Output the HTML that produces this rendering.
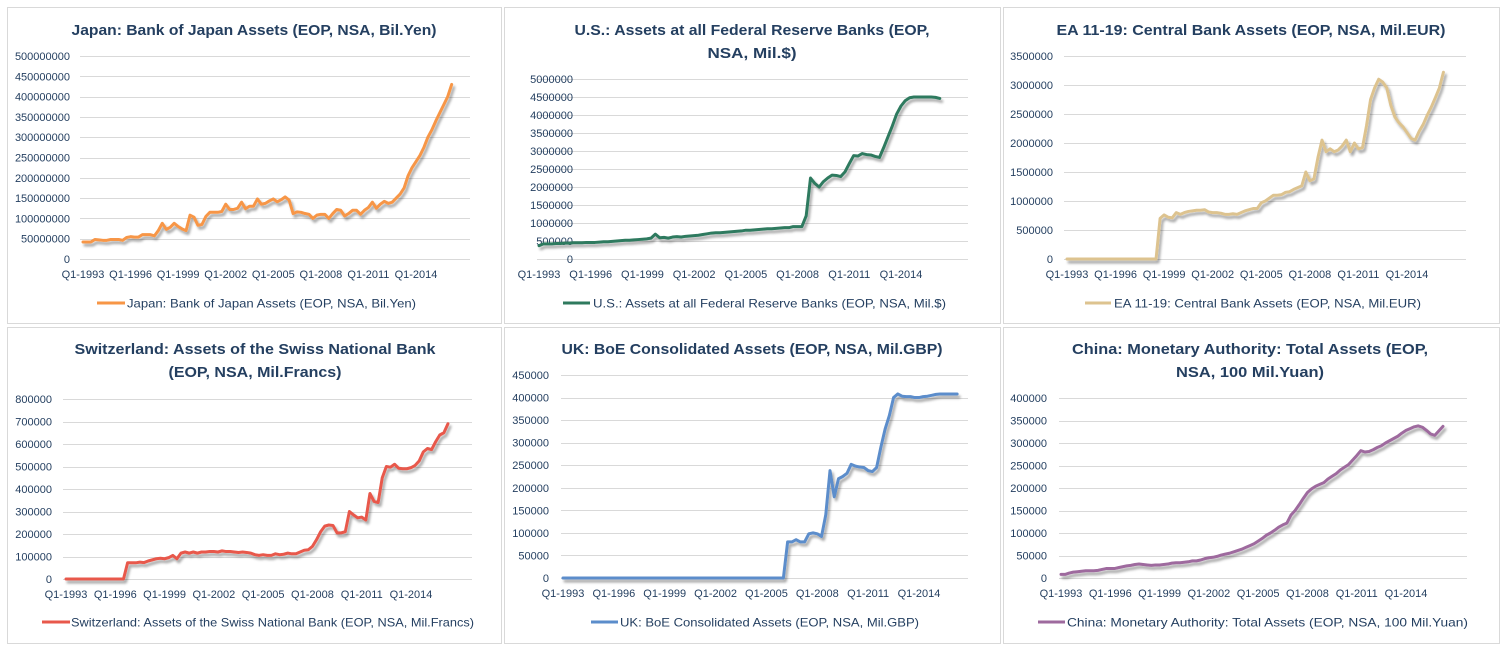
<!DOCTYPE html>
<html><head><meta charset="utf-8"><title>Central bank assets</title>
<style>
html,body{margin:0;padding:0;background:#fff;}
svg{display:block;font-family:"Liberation Sans",Arial,sans-serif;}
.ttl{font-weight:bold;font-size:15px;fill:#243F60;}
.tk{font-size:11px;fill:#243F60;}
.lg{font-size:12px;fill:#243F60;}
</style></head>
<body>
<svg id="root" width="1506" height="648" viewBox="0 0 1506 648">
<defs>
<filter id="sh" x="-10%" y="-10%" width="130%" height="130%">
<feDropShadow dx="2" dy="3" stdDeviation="1.4" flood-color="#000" flood-opacity="0.35"/>
</filter>
</defs>
<rect x="0" y="0" width="1506" height="648" fill="#fff"/>
<rect x="7.5" y="7.5" width="494" height="316" fill="#fff" stroke="#D9D9D9"/>
<rect x="504.5" y="7.5" width="496" height="316" fill="#fff" stroke="#D9D9D9"/>
<rect x="1003.5" y="7.5" width="496" height="316" fill="#fff" stroke="#D9D9D9"/>
<rect x="7.5" y="327.5" width="494" height="316" fill="#fff" stroke="#D9D9D9"/>
<rect x="504.5" y="327.5" width="496" height="316" fill="#fff" stroke="#D9D9D9"/>
<rect x="1003.5" y="327.5" width="496" height="316" fill="#fff" stroke="#D9D9D9"/>
<text class="ttl" x="254" y="35" text-anchor="middle" textLength="365" lengthAdjust="spacingAndGlyphs">Japan: Bank of Japan Assets (EOP, NSA, Bil.Yen)</text>
<text class="ttl" x="752" y="35" text-anchor="middle" textLength="355" lengthAdjust="spacingAndGlyphs">U.S.: Assets at all Federal Reserve Banks (EOP,</text>
<text class="ttl" x="752" y="58" text-anchor="middle" textLength="89" lengthAdjust="spacingAndGlyphs">NSA, Mil.$)</text>
<text class="ttl" x="1251" y="35" text-anchor="middle" textLength="389" lengthAdjust="spacingAndGlyphs">EA 11-19: Central Bank Assets (EOP, NSA, Mil.EUR)</text>
<text class="ttl" x="255" y="354" text-anchor="middle" textLength="361" lengthAdjust="spacingAndGlyphs">Switzerland: Assets of the Swiss National Bank</text>
<text class="ttl" x="255" y="377" text-anchor="middle" textLength="173" lengthAdjust="spacingAndGlyphs">(EOP, NSA, Mil.Francs)</text>
<text class="ttl" x="752" y="354" text-anchor="middle" textLength="381" lengthAdjust="spacingAndGlyphs">UK: BoE Consolidated Assets (EOP, NSA, Mil.GBP)</text>
<text class="ttl" x="1250" y="354" text-anchor="middle" textLength="356" lengthAdjust="spacingAndGlyphs">China: Monetary Authority: Total Assets (EOP,</text>
<text class="ttl" x="1250" y="377" text-anchor="middle" textLength="148" lengthAdjust="spacingAndGlyphs">NSA, 100 Mil.Yuan)</text>
<g>
<line x1="97" y1="303" x2="125" y2="303" stroke="#F79646" stroke-width="3"/>
<text class="lg" x="127" y="307.5" textLength="289" lengthAdjust="spacingAndGlyphs">Japan: Bank of Japan Assets (EOP, NSA, Bil.Yen)</text></g>
<g>
<line x1="563" y1="303" x2="590" y2="303" stroke="#2F7A5E" stroke-width="3"/>
<text class="lg" x="593" y="307.5" textLength="353" lengthAdjust="spacingAndGlyphs">U.S.: Assets at all Federal Reserve Banks (EOP, NSA, Mil.$)</text></g>
<g>
<line x1="1085" y1="303" x2="1111" y2="303" stroke="#DDC38F" stroke-width="3"/>
<text class="lg" x="1114" y="307.5" textLength="307" lengthAdjust="spacingAndGlyphs">EA 11-19: Central Bank Assets (EOP, NSA, Mil.EUR)</text></g>
<g>
<line x1="42" y1="622" x2="70" y2="622" stroke="#E8584B" stroke-width="3"/>
<text class="lg" x="71" y="626.5" textLength="403" lengthAdjust="spacingAndGlyphs">Switzerland: Assets of the Swiss National Bank (EOP, NSA, Mil.Francs)</text></g>
<g>
<line x1="591" y1="622" x2="618" y2="622" stroke="#5B8DCB" stroke-width="3"/>
<text class="lg" x="620" y="626.5" textLength="299" lengthAdjust="spacingAndGlyphs">UK: BoE Consolidated Assets (EOP, NSA, Mil.GBP)</text></g>
<g>
<line x1="1038" y1="622" x2="1065" y2="622" stroke="#9E6A9E" stroke-width="3"/>
<text class="lg" x="1067" y="626.5" textLength="401" lengthAdjust="spacingAndGlyphs">China: Monetary Authority: Total Assets (EOP, NSA, 100 Mil.Yuan)</text></g>
<g id="plots"></g>
</svg>
<script>
const xLabels = ['Q1-1993','Q1-1996','Q1-1999','Q1-2002','Q1-2005','Q1-2008','Q1-2011','Q1-2014'];
const xLabelIdx = [0,12,24,36,48,60,72,84];

const japanValues = [42,42,42,48, 47,46,46,48, 48,48,46,53, 55,54,54,60, 60,60,57,70, 88,73,78,88,
 80,74,70,108, 103,83,85,105, 115,115,115,117, 135,122,122,125, 140,124,130,130, 148,135,137,143,
 148,141,146,153, 145,112,116,115, 112,110,100,108, 110,110,100,112, 122,120,106,112, 120,120,110,120,
 127,140,125,135, 142,137,140,150, 160,175,205,225, 240,255,275,300, 318,340,360,380, 400,430];
const japanTicks = [0,50000000,100000000,150000000,200000000,250000000,300000000,350000000,400000000,450000000,500000000];

const usValues = [370,420,420,420, 430,430,440,440, 450,450,450,460, 460,460,470,480, 480,490,500,510,
 520,520,530,540, 550,560,580,690, 590,600,580,610, 620,610,630,640, 650,660,680,700, 720,730,730,740,
 750,760,770,780, 800,800,810,820, 830,840,840,850, 860,870,870,900, 900,900,1200,2250,
 2100,2000,2150,2250, 2330,2320,2290,2420, 2650,2870,2860,2930, 2900,2890,2850,2820,
 3100,3400,3700,4030, 4250,4400,4480,4500, 4500,4500,4500,4500, 4490,4460];
const usTicks = [0,500000,1000000,1500000,2000000,2500000,3000000,3500000,4000000,4500000,5000000];

const eaValues = [0,0,0,0,0,0,0,0,0,0,0,0,0,0,0,0,0,0,0,0,0,0,0, 700,
 760,720,710,800, 770,800,820,830, 840,840,850,810, 800,800,790,770, 770,780,770,800,
 830,850,870,870, 970,1000,1050,1100, 1100,1110,1150,1160, 1200,1230,1260,1500,
 1350,1380,1750,2050, 1850,1900,1850,1880, 1950,2050,1850,2000, 1900,1920,2300,2750,
 2950,3100,3050,2950, 2650,2450,2350,2280, 2180,2080,2050,2200, 2320,2480,2620,2780, 2950,3220];
const eaTicks = [0,500000,1000000,1500000,2000000,2500000,3000000,3500000];

const swissValues = [0,0,0,0,0,0,0,0,0,0,0,0,0,0,0, 72,72,72,75,73,
 80,85,90,92, 90,95,105,90, 115,120,115,120, 115,120,120,122, 122,120,125,122, 122,120,118,120,
 118,115,108,105, 108,105,105,112, 108,110,115,112, 112,120,128,130, 145,175,210,235,
 240,238,205,205, 210,300,285,272, 275,262,380,345, 340,450,500,497, 510,492,490,490,
 495,505,525,565, 580,575,610,640, 650,690];
const swissTicks = [0,100000,200000,300000,400000,500000,600000,700000,800000];

const ukValues = [0,0,0,0,0,0,0,0,0,0,0,0,0,0,0,0,0,0,0,0,0,0,0,0,0,0,0,0,0,0,
 0,0,0,0,0,0,0,0,0,0,0,0,0,0,0,0,0,0,0,0,0,0,0, 80,80,85,
 80,80,98,100, 98,92,140,238, 180,220,225,232, 252,248,246,245, 238,236,245,290,
 330,360,400,408, 403,402,402,400, 400,402,403,405, 407,408,408,408, 408,408];
const ukTicks = [0,50000,100000,150000,200000,250000,300000,350000,400000,450000];

const chinaValues = [8,8,11,13,14,15,16,16,16,17, 19,21,21,21,23,25,27,28,30,31,
 30,29,28,29,29,30,31,33,34,34, 35,36,38,38,40,43,45,46,48,51,
 53,55,58,61,64,68,72,76,82,88, 95,100,106,113,118,122,140,150,163,177,
 190,198,204,208,212,220,226,232,240,246, 252,262,272,283,280,281,285,290,294,300,
 305,310,315,322,328,332,336,338,335,328, 320,317,327,337];
const chinaTicks = [0,50000,100000,150000,200000,250000,300000,350000,400000];

const NS = 'http://www.w3.org/2000/svg';
const plots = document.getElementById('plots');
function mk(tag, attrs, parent){
  const e = document.createElementNS(NS, tag);
  for (const k in attrs) e.setAttribute(k, attrs[k]);
  parent.appendChild(e);
  return e;
}

function drawChart(key, values, unit, ticks, g){
  const grp = mk('g', {}, plots);
  
  
  const yMax = ticks[ticks.length-1];
  const dx = (g.xQ14 - g.x0) / 84;
  const xs = i => g.x0 + i * dx;
  const ys = v => g.yBase - v / yMax * (g.yBase - g.yTop);
  ticks.forEach(t => {
    const y = ys(t);
    const gl = mk('line', {x1:g.gx1, x2:g.gx2, y1:Math.round(y)+0.5, y2:Math.round(y)+0.5, stroke:'#D9D9D9', 'stroke-width':1}, grp);
    
    
    const tl = mk('text', {x:g.yLabRight, y:y+4, 'text-anchor':'end', class:'tk'}, grp);
    
    
    tl.textContent = String(t);
  });
  xLabels.forEach((lab, k) => {
    const t = mk('text', {x:xs(xLabelIdx[k]), y:g.xLabY, 'text-anchor':'middle', class:'tk'}, grp);
    
    
    t.textContent = lab;
  });
  const pts = values.map((v, i) => xs(i).toFixed(2) + ',' + ys(v * unit).toFixed(2)).join(' ');
  const pl = mk('polyline', {points:pts, fill:'none', stroke:g.color, 'stroke-width':3, 'stroke-linejoin':'round', 'stroke-linecap':'round', filter:'url(#sh)'}, grp);
  
  
}

drawChart('japan', japanValues, 1e6, japanTicks,
  {x0:83, xQ14:416, yTop:56, yBase:259, gx1:80, gx2:470, yLabRight:70, xLabY:278, color:'#F79646'});
drawChart('us', usValues, 1e3, usTicks,
  {x0:539, xQ14:901, yTop:79, yBase:259, gx1:537, gx2:968, yLabRight:573, xLabY:278, color:'#2F7A5E'});
drawChart('ea', eaValues, 1e3, eaTicks,
  {x0:1067, xQ14:1407, yTop:56, yBase:259, gx1:1064, gx2:1466, yLabRight:1053, xLabY:278, color:'#DDC38F'});
drawChart('swiss', swissValues, 1e3, swissTicks,
  {x0:66, xQ14:411, yTop:399, yBase:579, gx1:63, gx2:472, yLabRight:52, xLabY:598, color:'#E8584B'});
drawChart('uk', ukValues, 1e3, ukTicks,
  {x0:563, xQ14:919, yTop:375, yBase:578, gx1:561, gx2:968, yLabRight:549, xLabY:597, color:'#5B8DCB'});
drawChart('china', chinaValues, 1e3, chinaTicks,
  {x0:1061, xQ14:1406, yTop:398, yBase:578, gx1:1059, gx2:1467, yLabRight:1047, xLabY:597, color:'#9E6A9E'});
</script>
</body></html>
